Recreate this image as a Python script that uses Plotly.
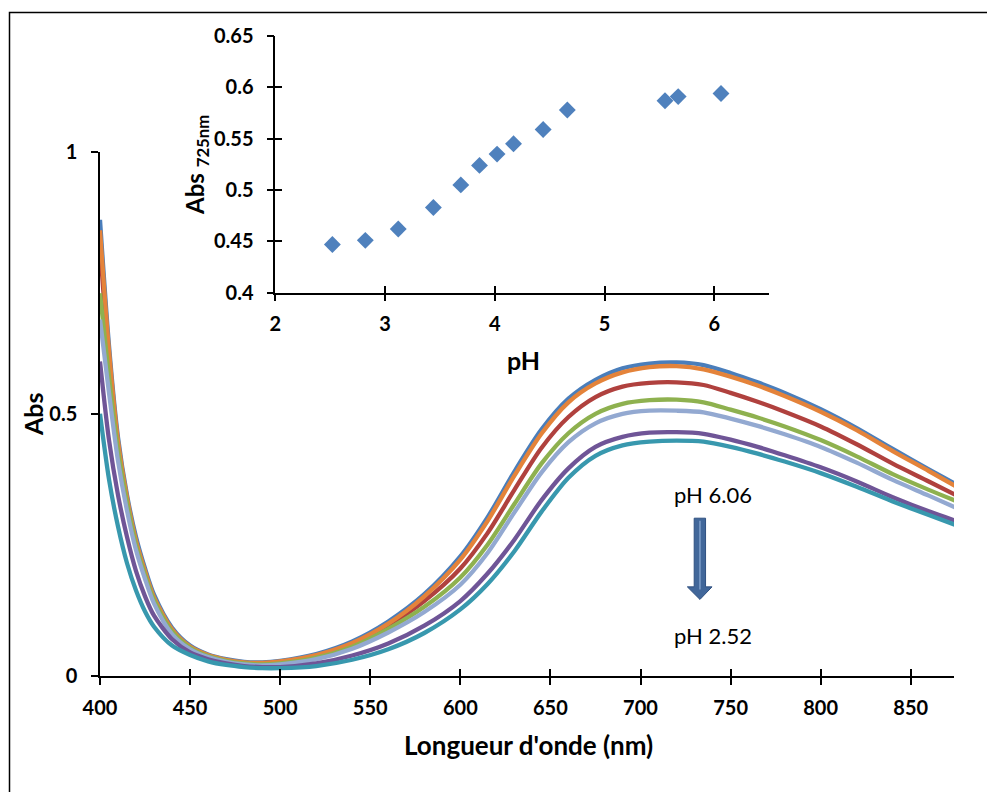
import plotly.graph_objects as go

# ---------------- data ----------------
wavelength = [400, 405, 410, 415, 420, 425, 430, 440, 450, 460, 470, 480, 490, 500,
              520, 540, 560, 580, 600, 615, 630, 645, 660, 675, 690, 705, 720, 735,
              750, 765, 780, 800, 820, 840, 860, 875]

abs_blue = [0.87, 0.63, 0.455, 0.345, 0.265, 0.205, 0.155, 0.092, 0.058, 0.041, 0.032, 0.027, 0.026, 0.029,
            0.042, 0.066, 0.104, 0.156, 0.228, 0.302, 0.390, 0.470, 0.529, 0.565, 0.587, 0.596, 0.598, 0.593,
            0.578, 0.560, 0.540, 0.509, 0.473, 0.433, 0.394, 0.366]
abs_orange = [0.85, 0.62, 0.448, 0.34, 0.258, 0.20, 0.150, 0.089, 0.056, 0.040, 0.031, 0.026, 0.025, 0.028,
              0.040, 0.063, 0.100, 0.152, 0.222, 0.295, 0.382, 0.462, 0.522, 0.558, 0.579, 0.589, 0.591, 0.585,
              0.571, 0.554, 0.534, 0.504, 0.469, 0.429, 0.391, 0.362]
abs_red = [0.82, 0.60, 0.44, 0.335, 0.254, 0.196, 0.147, 0.087, 0.055, 0.039, 0.030, 0.025, 0.024, 0.026,
           0.038, 0.060, 0.096, 0.143, 0.205, 0.272, 0.355, 0.435, 0.494, 0.532, 0.552, 0.559, 0.560, 0.555,
           0.540, 0.523, 0.504, 0.476, 0.442, 0.405, 0.371, 0.345]
abs_green = [0.73, 0.57, 0.43, 0.33, 0.25, 0.193, 0.145, 0.085, 0.054, 0.038, 0.029, 0.024, 0.022, 0.024,
             0.035, 0.056, 0.090, 0.132, 0.188, 0.250, 0.328, 0.405, 0.463, 0.500, 0.519, 0.526, 0.527, 0.522,
             0.508, 0.493, 0.476, 0.450, 0.419, 0.385, 0.355, 0.334]
abs_lightblue = [0.68, 0.54, 0.41, 0.315, 0.24, 0.185, 0.138, 0.080, 0.051, 0.036, 0.027, 0.022, 0.020, 0.022,
                 0.032, 0.052, 0.083, 0.122, 0.174, 0.234, 0.312, 0.388, 0.446, 0.482, 0.500, 0.506, 0.506, 0.503,
                 0.491, 0.477, 0.461, 0.437, 0.407, 0.374, 0.344, 0.321]
abs_purple = [0.60, 0.45, 0.345, 0.265, 0.200, 0.152, 0.115, 0.070, 0.045, 0.032, 0.024, 0.019, 0.017, 0.017,
              0.024, 0.039, 0.062, 0.096, 0.143, 0.195, 0.260, 0.335, 0.396, 0.437, 0.456, 0.464, 0.465, 0.462,
              0.451, 0.437, 0.421, 0.398, 0.371, 0.341, 0.314, 0.296]
abs_teal = [0.50, 0.375, 0.285, 0.215, 0.163, 0.123, 0.094, 0.058, 0.040, 0.028, 0.021, 0.017, 0.015, 0.015,
            0.019, 0.031, 0.051, 0.082, 0.127, 0.175, 0.238, 0.313, 0.378, 0.420, 0.440, 0.447, 0.449, 0.447,
            0.437, 0.424, 0.409, 0.387, 0.361, 0.333, 0.307, 0.288]

ph_values = [2.52, 2.82, 3.12, 3.44, 3.69, 3.86, 4.02, 4.17, 4.44, 4.66, 5.55, 5.67, 6.06]
abs_725 = [0.447, 0.451, 0.462, 0.483, 0.505, 0.524, 0.535, 0.545, 0.559, 0.578, 0.587, 0.591, 0.594]

main_xticks = [400, 450, 500, 550, 600, 650, 700, 750, 800, 850]
main_yticks = [0, 0.5, 1]
main_yticktext = ["0", "0.5", "1"]
inset_xticks = [2, 3, 4, 5, 6]
inset_yticks = [0.4, 0.45, 0.5, 0.55, 0.6, 0.65]
inset_yticktext = ["0.4", "0.45", "0.5", "0.55", "0.6", "0.65"]

# ---------------- figure ----------------
W, H = 995, 792
OFF = 8  # page body margin offset of the plot div
FONT = "Lato"


def fx(p):
    return (p - OFF) / W


def fy(p):
    return 1 - (p - OFF) / H


series = [
    (abs_red, "#B0413E"),
    (abs_blue, "#4A7EBB"),
    (abs_orange, "#E4833A"),
    (abs_green, "#8EB14F"),
    (abs_lightblue, "#93A9D1"),
    (abs_purple, "#6F5597"),
    (abs_teal, "#3898AE"),
]

fig = go.Figure()
for vals, col in series:
    fig.add_trace(go.Scatter(x=wavelength, y=vals, mode="lines",
                             line=dict(color=col, width=4.3, shape="spline", smoothing=0.8),
                             xaxis="x", yaxis="y", showlegend=False, hoverinfo="skip"))

fig.add_trace(go.Scatter(x=ph_values, y=abs_725, mode="markers",
                         marker=dict(symbol="diamond", size=13, color="#4F81BD"),
                         xaxis="x2", yaxis="y2", showlegend=False))

# dummy traces so overlay tick axes are drawn
fig.add_trace(go.Scatter(x=[None], y=[None], xaxis="x3", yaxis="y", showlegend=False))
fig.add_trace(go.Scatter(x=[None], y=[None], xaxis="x4", yaxis="y4", showlegend=False))

tickfont = dict(family=FONT, size=20, color="black", weight="bold")
axline = dict(showline=True, linecolor="black", linewidth=1.5, showgrid=False, zeroline=False,
              tickcolor="black", tickwidth=1.5)

main_xdom = [fx(100), fx(954)]
main_ydom = [fy(676), fy(151.7)]
ins_xdom = [fx(275.3), fx(769.3)]
ins_ydom = [fy(292.7), fy(36)]

fig.update_layout(
    width=W, height=H,
    margin=dict(l=0, r=0, t=0, b=0, autoexpand=False),
    paper_bgcolor="white", plot_bgcolor="rgba(0,0,0,0)",
    xaxis=dict(domain=main_xdom, range=[400, 874], tickvals=main_xticks, ticks="outside", ticklen=7,
               tickfont=tickfont, anchor="y", ticklabelstandoff=6, **axline),
    yaxis=dict(domain=main_ydom, range=[0, 1], tickvals=main_yticks, ticktext=main_yticktext,
               ticks="outside", ticklen=7, tickfont=tickfont, anchor="x", ticklabelstandoff=10, **axline),
    xaxis3=dict(overlaying="x", anchor="y", range=[400, 874], tickvals=main_xticks, ticks="inside",
                ticklen=7, showticklabels=False, showline=False, showgrid=False, zeroline=False,
                tickcolor="black", tickwidth=1.5),
    xaxis2=dict(domain=ins_xdom, range=[2, 6.5], tickvals=inset_xticks, ticks="outside", ticklen=7,
                tickfont=tickfont, anchor="y2", ticklabelstandoff=6, **axline),
    yaxis2=dict(domain=ins_ydom, range=[0.4, 0.65], tickvals=inset_yticks, ticktext=inset_yticktext,
                ticks="outside", ticklen=7, tickfont=tickfont, anchor="x2", ticklabelstandoff=9, **axline),
    xaxis4=dict(overlaying="x2", anchor="y4", range=[2, 6.5], tickvals=inset_xticks, ticks="inside",
                ticklen=7, showticklabels=False, showline=False, showgrid=False, zeroline=False,
                tickcolor="black", tickwidth=1.5),
    yaxis4=dict(overlaying="y2", anchor="x4", range=[0.4, 0.65], tickvals=inset_yticks, ticks="inside",
                ticklen=7, showticklabels=False, showline=False, showgrid=False, zeroline=False,
                tickcolor="black", tickwidth=1.5),
)

bold = dict(family=FONT, size=25, color="black", weight="bold")
reg = dict(family=FONT, size=22, color="black")
annots = [
    dict(text="Abs", x=fx(33), y=fy(414), textangle=-90, font=bold),
    dict(text="Longueur d'onde (nm)", x=fx(528), y=fy(745), font=dict(bold, size=26)),
    dict(text="pH", x=fx(523), y=fy(360), font=bold),
    dict(text="Abs <sub>725nm</sub>", x=fx(197), y=fy(165), textangle=-90,
         font=dict(family=FONT, size=24, color="black", weight="bold")),
    dict(text="pH 6.06", x=fx(713), y=fy(494), font=reg),
    dict(text="pH 2.52", x=fx(713), y=fy(635), font=reg),
]
for a in annots:
    fig.add_annotation(xref="paper", yref="paper", showarrow=False, xanchor="center", yanchor="middle", **a)

# outer frame
fig.add_shape(type="rect", xref="paper", yref="paper", x0=fx(9.5), x1=1.05, y0=-0.05, y1=fy(12.5),
              line=dict(color="black", width=1.5), fillcolor="rgba(0,0,0,0)")

# arrow (pH decreasing) in main-axis data coordinates
arrow_path = ("M 729.8 0.301 L 736.1 0.301 L 736.1 0.170 L 739.7 0.170 L 733 0.146 "
              "L 726 0.170 L 729.8 0.170 Z")
fig.add_shape(type="path", xref="x", yref="y", path=arrow_path,
              fillcolor="#41679A", line=dict(color="#2F5080", width=1))
fig.add_shape(type="line", xref="x", yref="y", x0=733, x1=733, y0=0.296, y1=0.165,
              line=dict(color="#7F9FCB", width=1.5))

fig.write_html("out.html")
